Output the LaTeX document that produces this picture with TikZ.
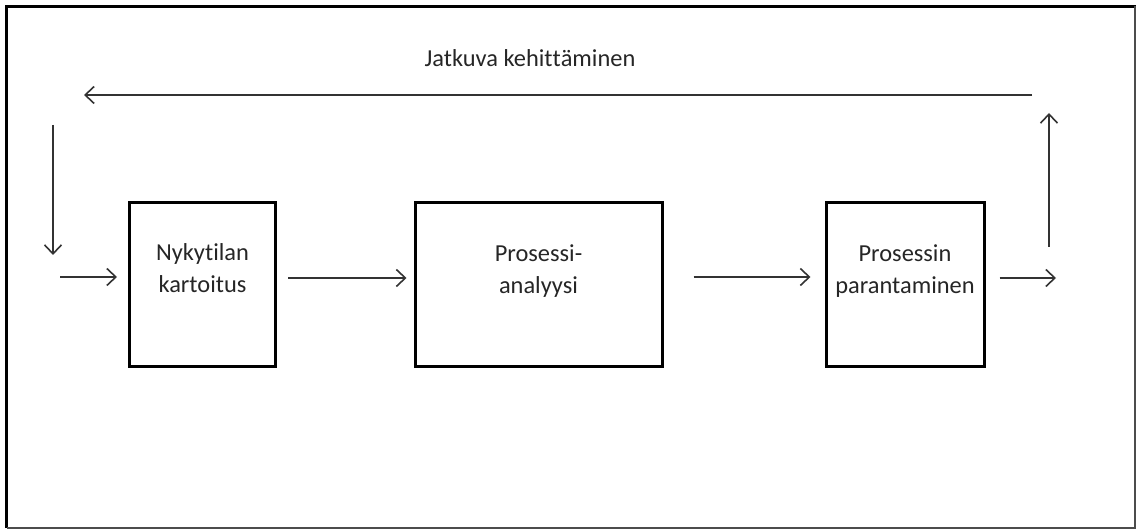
\documentclass[tikz,border=0pt]{standalone}
\usepackage{fontspec}
\setmainfont{Carlito}[Ligatures={NoCommon,NoContextual,NoRare}]
\usetikzlibrary{arrows.meta}

\begin{document}
\begin{tikzpicture}[x=1pt,y=-1pt]
  \tikzset{stagebox/.style={draw=black,line width=3pt,minimum width=146pt,minimum height=164pt,inner sep=0pt}}
  \tikzset{stagetext/.style={align=center,font=\fontsize{24.4}{32}\selectfont,text=black!85,inner sep=0pt}}
  \tikzset{flow/.style={draw=black!80,line width=1.6pt,-{Straight Barb[length=9pt,width=17pt,line width=1.6pt]}}}
  \useasboundingbox (0,0) rectangle (1136,529);
  \fill[white] (0,0) rectangle (1136,529);
  \draw[black,line width=3pt] (6.5,528) -- (6.5,6.5) -- (1136,6.5);
  \draw[black!70,line width=2pt] (1134.5,6.5) -- (1134.5,527.5) -- (6.5,527.5);
  \node[stagebox] (b1) at (202.5,285) {};
  \node[stagebox,minimum width=247pt] (b2) at (538.5,285) {};
  \node[stagebox,minimum width=158pt] (b3) at (905,285) {};
  \node[stagetext] (t1) at (202.5,268) {Nykyt\kern0pt ilan\\kartoitus};
  \node[stagetext] (t2) at (538.5,271) {Prosessi-\\analyysi};
  \node[stagetext] (t3) at (905,271) {Prosessin\\parantaminen};
  \node[stagetext] (loop) at (530,58) {Jatkuva kehit\kern0pt t\kern0pt äminen};
  \coordinate (inS) at (60,277);
  \coordinate (outE) at (1056,278);
  \coordinate (upS) at (1049,247);
  \coordinate (upE) at (1049,113);
  \coordinate (topR) at (1032,95);
  \coordinate (topL) at (84,95);
  \coordinate (downS) at (53,125);
  \coordinate (downE) at (53,255);
  \draw[flow,shorten >=11pt] (inS) -- ([yshift=8pt]b1.west);
  \draw[flow,shorten <=11pt,shorten >=7pt] ([yshift=7pt]b1.east) -- ([yshift=7pt]b2.west);
  \draw[flow,shorten <=30pt,shorten >=14pt] ([yshift=8pt]b2.east) -- ([yshift=8pt]b3.west);
  \draw[flow,shorten <=14pt] ([yshift=7pt]b3.east) -- (outE);
  \draw[flow] (upS) -- (upE);
  \draw[flow] (topR) -- (topL);
  \draw[flow] (downS) -- (downE);
\end{tikzpicture}
\end{document}
